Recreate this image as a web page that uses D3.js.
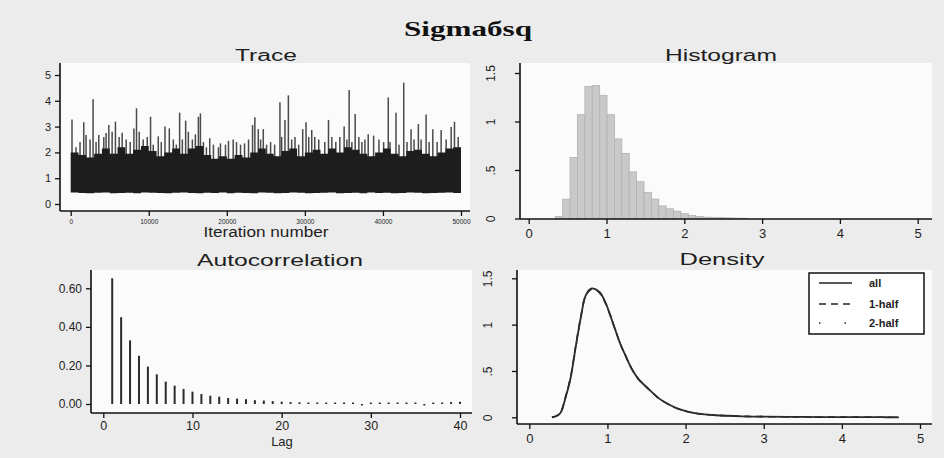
<!DOCTYPE html>
<html>
<head>
<meta charset="utf-8">
<title>Sigmaбsq</title>
<script src="https://d3js.org/d3.v7.min.js"></script>
<style>
	body { margin: 0; background: #ececec; }
	svg { display: block; }
	.axis text { font-family: "Liberation Sans", Arial, sans-serif; fill: #1e1e1e; }
	.axis line { stroke: #111; stroke-width: 1.3; }
	.ptitle { font-family: "Liberation Sans", Arial, sans-serif; fill: #1e1e1e; text-anchor: middle; }
</style>
</head>
<body>
<svg width="944" height="458"></svg>
<script>

var title = "Sigmaбsq";

// trace: dense band (every 1000 iterations) + spikes above it
var bandStep = 1000;
var bandTop = [2.0, 1.9, 1.8, 1.95, 2.15, 1.95, 2.2, 1.95, 2.1, 2.25, 2.05, 1.85, 2.0, 2.15, 1.95, 2.15, 2.25,
	1.9, 1.75, 1.85, 1.75, 1.9, 1.8, 2.0, 2.15, 1.95, 1.85, 2.05, 2.15, 1.85, 2.0, 2.1, 1.95, 2.15, 2.0, 2.2,
	2.1, 1.95, 1.85, 2.0, 2.15, 1.95, 1.85, 2.05, 2.1, 1.95, 1.85, 2.0, 2.15, 2.2, 2.3];
var bandLow = [0.45, 0.43, 0.42, 0.44, 0.45, 0.42, 0.43, 0.44, 0.42, 0.45, 0.44, 0.43, 0.42, 0.44, 0.45, 0.43, 0.42,
	0.44, 0.43, 0.45, 0.42, 0.44, 0.43, 0.42, 0.45, 0.44, 0.42, 0.43, 0.45, 0.44, 0.42, 0.43, 0.44, 0.45, 0.42, 0.43,
	0.44, 0.42, 0.45, 0.43, 0.44, 0.42, 0.43, 0.45, 0.44, 0.42, 0.43, 0.44, 0.45, 0.43, 0.44];
var spikeIter = [167, 680, 1195, 1670, 1966, 2480, 2866, 3250, 3598, 4240, 4536, 4883, 5307, 5731, 6207, 6592,
	7106, 7620, 8096, 8430, 8777, 9290, 9805, 10229, 10576, 11218, 11604, 12079, 12632, 13146, 13531, 13955,
	14302, 14726, 15073, 15587, 15972, 16358, 16615, 17000, 17386, 17810, 18285, 18928, 19185, 19827, 20213,
	20817, 21241, 21755, 22269, 22783, 23297, 23593, 24030, 24325, 24672, 25096, 25610, 26124, 26805, 27024,
	27448, 27885, 28309, 28733, 29208, 29722, 30146, 30493, 30879, 31264, 31778, 32549, 33025, 33449, 33963,
	34477, 35029, 35377, 35672, 36019, 36443, 36918, 37304, 37689, 38113, 38807, 39488, 40092, 40683, 40901,
	41672, 42058, 42662, 43086, 43600, 43986, 44538, 44885, 45528, 45913, 46389, 46941, 47455, 48097, 48740,
	49164, 49640];
var spikeVal = [3.28, 2.2, 2.4, 3.17, 2.67, 2.5, 4.06, 2.4, 2.67, 2.6, 2.75, 3.06, 2.8, 3.19, 2.6, 2.76,
	2.5, 2.4, 2.93, 3.71, 2.8, 2.5, 2.6, 3.38, 2.3, 2.62, 2.4, 3.0, 2.93, 2.5, 2.3, 3.54,
	2.5, 3.23, 2.8, 2.5, 2.7, 3.38, 3.51, 2.4, 2.2, 2.55, 2.3, 2.2, 2.35, 2.3, 2.45,
	2.5, 2.4, 2.3, 2.35, 2.5, 3.06, 3.36, 2.9, 2.5, 2.9, 2.3, 2.4, 2.3, 3.94, 2.6,
	3.26, 4.21, 2.5, 2.6, 2.3, 2.9, 3.17, 2.6, 2.87, 2.6, 2.5, 2.4, 3.26, 2.6, 2.4,
	2.6, 3.0, 2.5, 4.42, 2.4, 3.49, 2.6, 2.4, 2.5, 2.7, 2.65, 2.5, 2.4, 4.13, 2.4,
	3.54, 2.3, 4.70, 2.4, 2.9, 2.5, 3.1, 2.5, 3.47, 2.4, 2.9, 2.4, 2.87, 2.5, 2.98,
	3.19, 2.6];
var traceTicks = [0, 10000, 20000, 30000, 40000, 50000];

// histogram
var histStart = 0.342;
var histWidth = 0.095;
var histHeights = [0.02, 0.20, 0.63, 1.07, 1.36, 1.37, 1.27, 1.07, 0.82, 0.67, 0.48, 0.38, 0.27, 0.20,
	0.13, 0.10, 0.076, 0.05, 0.03, 0.02, 0.014, 0.01, 0.008, 0.006, 0.004, 0.003];

// autocorrelation
var acfLags = [1, 2, 3, 4, 5, 6, 7, 8, 9, 10, 11, 12, 13, 14, 15, 16, 17, 18, 19, 20,
	21, 22, 23, 24, 25, 26, 27, 28, 29, 30, 31, 32, 33, 34, 35, 36, 37, 38, 39, 40];
var acfVals = [0.652, 0.45, 0.33, 0.25, 0.194, 0.154, 0.116, 0.095, 0.078, 0.064, 0.052, 0.043, 0.038, 0.031,
	0.028, 0.025, 0.02, 0.018, 0.015, 0.012, 0.01, 0.009, 0.008, 0.008, 0.007, 0.006, 0.005, 0.003,
	-0.003, 0.002, 0.004, 0.005, 0.006, 0.003, 0.001, -0.004, 0.002, 0.005, 0.01, 0.012];

// density
var densX = [0.29, 0.35, 0.40, 0.46, 0.53, 0.59, 0.66, 0.72, 0.79, 0.85, 0.91, 0.98, 1.04, 1.11, 1.17, 1.24,
	1.30, 1.39, 1.52, 1.65, 1.78, 1.91, 2.04, 2.21, 2.38, 2.73, 3.0, 3.5, 4.0, 4.5, 4.73];
var densAll = [0, 0.015, 0.05, 0.2, 0.43, 0.74, 1.08, 1.31, 1.39, 1.38, 1.34, 1.23, 1.09, 0.92, 0.78, 0.65,
	0.54, 0.42, 0.31, 0.21, 0.14, 0.09, 0.058, 0.034, 0.022, 0.011, 0.007, 0.004, 0.002, 0.001, 0.0];
var densHalf1 = [0, 0.015, 0.05, 0.21, 0.44, 0.75, 1.09, 1.31, 1.38, 1.38, 1.33, 1.22, 1.09, 0.92, 0.78, 0.65,
	0.54, 0.42, 0.31, 0.21, 0.14, 0.089, 0.057, 0.034, 0.022, 0.011, 0.007, 0.004, 0.002, 0.001, 0.0];
var densHalf2 = [0, 0.015, 0.05, 0.2, 0.43, 0.73, 1.07, 1.31, 1.39, 1.39, 1.34, 1.23, 1.1, 0.93, 0.78, 0.65,
	0.54, 0.42, 0.31, 0.21, 0.14, 0.091, 0.059, 0.034, 0.022, 0.011, 0.007, 0.004, 0.002, 0.001, 0.0];
var legendLabels = ["all", "1-half", "2-half"];
var legendDash = ["none", "7,5", "1.5,12"];

var svg = d3.select("svg");
var font = "'Liberation Sans', Arial, sans-serif";

svg.append("text")
	.attr("x", 468).attr("y", 36)
	.attr("text-anchor", "middle")
	.attr("font-family", "'Liberation Serif', 'DejaVu Serif', serif")
	.attr("font-weight", "bold")
	.attr("font-size", 21)
	.attr("textLength", 128).attr("lengthAdjust", "spacingAndGlyphs")
	.attr("fill", "#111")
	.text(title);

function plotTitle(x, y, len, txt) {
	svg.append("text").attr("class", "ptitle")
		.attr("x", x).attr("y", y)
		.attr("font-size", 16)
		.attr("textLength", len).attr("lengthAdjust", "spacingAndGlyphs")
		.text(txt);
}

function region(x0, x1, y0, y1) {
	svg.append("rect")
		.attr("x", x0).attr("y", y0)
		.attr("width", x1 - x0).attr("height", y1 - y0)
		.attr("fill", "#fbfbfb");
}

// draw axis line and ticks; axis line drawn separately so it spans the plot region
function leftAxis(x, y0, y1, scale, vals, fmt, size, rotate) {
	var g = svg.append("g").attr("class", "axis")
		.attr("transform", "translate(" + x + ",0)")
		.call(d3.axisLeft(scale).tickValues(vals).tickFormat(fmt).tickSize(5).tickSizeOuter(0).tickPadding(4));
	g.select(".domain").remove();
	g.selectAll("text").attr("font-size", size);
	if (rotate) {
		g.selectAll(".tick text")
			.attr("x", 0).attr("dy", "0.35em")
			.attr("text-anchor", "middle")
			.attr("transform", "translate(-29,0) rotate(-90)");
	}
	svg.append("line").attr("x1", x).attr("x2", x).attr("y1", y0).attr("y2", y1)
		.attr("stroke", "#111").attr("stroke-width", 1.6);
}

function bottomAxis(y, x0, x1, scale, vals, fmt, size, pad) {
	var g = svg.append("g").attr("class", "axis")
		.attr("transform", "translate(0," + y + ")")
		.call(d3.axisBottom(scale).tickValues(vals).tickFormat(fmt).tickSize(5).tickSizeOuter(0).tickPadding(pad));
	g.select(".domain").remove();
	g.selectAll("text").attr("font-size", size);
	svg.append("line").attr("x1", x0).attr("x2", x1).attr("y1", y).attr("y2", y)
		.attr("stroke", "#111").attr("stroke-width", 1.6);
	return g;
}

// ---- Trace ----
var xT = d3.scaleLinear().domain([0, 50000]).range([70.7, 461]);
var yT = d3.scaleLinear().domain([0, 5]).range([204, 75]);
region(60, 470, 63, 211);
plotTitle(266, 61, 62, "Trace");

svg.append("g").selectAll("line")
	.data(spikeVal)
	.enter().append("line")
	.attr("x1", function(d, i) { return xT(spikeIter[i]); })
	.attr("x2", function(d, i) { return xT(spikeIter[i]); })
	.attr("y1", yT(1.5))
	.attr("y2", function(d) { return yT(d); })
	.attr("stroke", "#4a4a4a")
	.attr("stroke-width", 1.5);

var band = d3.area()
	.x(function(d, i) { return xT(i * bandStep); })
	.y0(function(d, i) { return yT(bandLow[i]); })
	.y1(function(d) { return yT(d); })
	.curve(d3.curveStepAfter);
svg.append("path").datum(bandTop)
	.attr("d", band)
	.attr("fill", "#1d1d1d");

leftAxis(60, 63, 211, yT, [0, 1, 2, 3, 4, 5], d3.format("d"), 11, false);
bottomAxis(211, 60, 470, xT, traceTicks, d3.format("d"), 6.5, 3)
	.selectAll("text").attr("fill", "#555");
svg.append("text").attr("class", "ptitle")
	.attr("x", 266).attr("y", 237)
	.attr("font-size", 14)
	.attr("textLength", 125).attr("lengthAdjust", "spacingAndGlyphs")
	.text("Iteration number");

// ---- Histogram ----
var xH = d3.scaleLinear().domain([0, 5]).range([528.7, 917.7]);
var yH = d3.scaleLinear().domain([0, 1.5]).range([218.5, 73]);
region(520, 932, 63, 219);
plotTitle(721, 61, 112, "Histogram");

svg.append("g").selectAll("rect")
	.data(histHeights)
	.enter().append("rect")
	.attr("x", function(d, i) { return xH(histStart + i * histWidth); })
	.attr("width", xH(histWidth) - xH(0))
	.attr("y", function(d) { return yH(d); })
	.attr("height", function(d) { return yH(0) - yH(d); })
	.attr("fill", "#c9c9c9")
	.attr("stroke", "#b2b2b2")
	.attr("stroke-width", 0.8);

var halfFmt = function(d) { return d === 0.5 ? ".5" : String(d); };
leftAxis(520, 63, 219, yH, [0, 0.5, 1, 1.5], halfFmt, 12, true);
bottomAxis(219, 520, 932, xH, [0, 1, 2, 3, 4, 5], d3.format("d"), 13, 5);

// ---- Autocorrelation ----
var xA = d3.scaleLinear().domain([0, 40]).range([103.3, 460]);
var yA = d3.scaleLinear().domain([0, 0.6]).range([404, 288.3]);
region(91, 472, 270, 413);
plotTitle(280, 266, 166, "Autocorrelation");

svg.append("g").selectAll("line")
	.data(acfVals)
	.enter().append("line")
	.attr("x1", function(d, i) { return xA(acfLags[i]); })
	.attr("x2", function(d, i) { return xA(acfLags[i]); })
	.attr("y1", yA(0))
	.attr("y2", function(d) { return Math.abs(yA(d) - yA(0)) < 1.5 ? yA(0) - (d < 0 ? -1.5 : 1.5) : yA(d); })
	.attr("stroke", "#2a2a2a")
	.attr("stroke-width", 2);

leftAxis(91, 270, 413, yA, [0, 0.2, 0.4, 0.6], d3.format(".2f"), 12, false);
bottomAxis(413, 91, 472, xA, [0, 10, 20, 30, 40], d3.format("d"), 12.5, 3);
svg.append("text").attr("class", "ptitle")
	.attr("x", 282).attr("y", 446)
	.attr("font-size", 13)
	.text("Lag");

// ---- Density ----
var xD = d3.scaleLinear().domain([0, 5]).range([529.3, 920]);
var yD = d3.scaleLinear().domain([0, 1.5]).range([417.3, 278.3]);
region(517, 932, 270, 424);
plotTitle(722, 265, 85, "Density");

var dens = [densAll, densHalf1, densHalf2];
var densLine = d3.line()
	.x(function(d, i) { return xD(densX[i]); })
	.y(function(d) { return yD(d); })
	.curve(d3.curveCatmullRom);
svg.append("g").selectAll("path")
	.data(dens)
	.enter().append("path")
	.attr("d", densLine)
	.attr("fill", "none")
	.attr("stroke", "#2b2b2b")
	.attr("stroke-width", function(d, i) { return i === 0 ? 1.8 : 1.6; })
	.attr("stroke-dasharray", function(d, i) { return legendDash[i]; });

leftAxis(517, 270, 424, yD, [0, 0.5, 1, 1.5], halfFmt, 12, true);
bottomAxis(424, 517, 932, xD, [0, 1, 2, 3, 4, 5], d3.format("d"), 13, 5);

var legend = svg.append("g").attr("transform", "translate(809,273)");
legend.append("rect")
	.attr("width", 115).attr("height", 61)
	.attr("fill", "#fff")
	.attr("stroke", "#111").attr("stroke-width", 1.5);
var items = legend.selectAll("g.item")
	.data(legendLabels)
	.enter().append("g").attr("class", "item")
	.attr("transform", function(d, i) { return "translate(0," + [10, 31, 50][i] + ")"; });
items.append("line")
	.attr("x1", 10).attr("x2", 43)
	.attr("stroke", "#222").attr("stroke-width", 1.4)
	.attr("stroke-dasharray", function(d, i) { return i === 2 ? "1.5,24" : legendDash[i]; });
items.append("text")
	.attr("x", 60).attr("dy", "0.35em")
	.attr("font-family", font)
	.attr("font-size", 11)
	.attr("font-weight", "bold")
	.attr("fill", "#222")
	.text(function(d) { return d; });

</script>
</body>
</html>
